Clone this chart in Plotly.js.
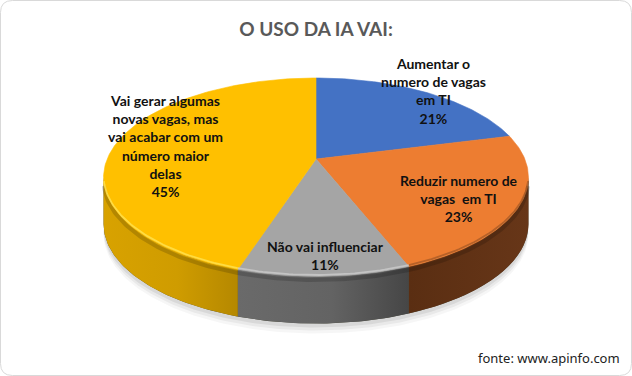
<!DOCTYPE html>
<html><head><meta charset="utf-8">
<script src="https://cdn.plot.ly/plotly-3.0.1.min.js"></script>
<style>html,body{margin:0;padding:0;background:#fff}#c{width:632px;height:376px}</style>
</head><body><div id="c"></div>
<script>
const categories = ["Aumentar o<br>numero de vagas<br>em TI","Reduzir numero de<br>vagas  em TI","Não vai influenciar","Vai gerar algumas<br>novas vagas, mas<br>vai acabar com um<br>número maior<br>delas"];
const values = [21,23,11,45];
const topColors = ["#4472c4","#ed7d31","#a5a5a5","#ffc000"];
const labelX = [433,459,325,165];
const labelY = [90.5,198.5,255.5,146];
const wallScales = [null,
  [[0,"#5a2e12"],[1,"#673618"]],
  [[0,"#6a6a6a"],[0.55,"#636363"],[1,"#464646"]],
  [[0,"#d8a200"],[0.55,"#cf9c00"],[1,"#b58800"]]];
const rimColors = [null,"#8a4a20","#c9c9c9","#ffe14d"];

// projection of the pie disc
const CX=316, CY=159, A=208.8, B=95.9, K=0.184, H=47;
const rad=d=>d*Math.PI/180;
const px=(t,dy=0)=>{const w=1+K*Math.cos(rad(t));return [CX+A*Math.sin(rad(t))/w, CY-B*Math.cos(rad(t))/w+dy];};
const arc=(a,b,dy=0)=>{const o=[];const s=Math.max(2,Math.ceil(Math.abs(b-a)));for(let i=0;i<=s;i++){o.push(px(a+(b-a)*i/s,dy));}return o;};
const FRONT_R=100.6, FRONT_L=259.4;
const xs=p=>p.map(q=>q[0]), ys=p=>p.map(q=>q[1]);
const traces=[];
const poly=(p,extra)=>traces.push(Object.assign({type:"scatter",mode:"lines",x:xs(p),y:ys(p),hoverinfo:"skip",line:{width:0}},extra));

// soft shadow under the wall
[[10,"rgba(0,0,0,0.035)"],[7,"rgba(0,0,0,0.05)"],[4,"rgba(0,0,0,0.07)"]].forEach(s=>{
  const p=arc(FRONT_R-14,FRONT_L+14,H+s[0]);
  poly(p.concat([p[0]]),{fill:"toself",fillcolor:s[1]});
});

let start=0;
const spans=values.map(v=>{const r=[start,start+v*3.6];start=r[1];return r;});
// base under the walls, closes the seams between sections
{
  const p=arc(FRONT_R,FRONT_L,0).concat(arc(FRONT_L,FRONT_R,H)); p.push(p[0]);
  poly(p,{fill:"toself",fillcolor:"#4a4a3a"});
}
// walls
spans.forEach((sp,i)=>{
  const a=Math.max(sp[0],FRONT_R), b=Math.min(sp[1],FRONT_L);
  if(a>=b) return;
  const p=arc(a,b,0).concat(arc(b,a,H));
  p.push(p[0]);
  poly(p,{fill:"toself",fillgradient:{type:"horizontal",colorscale:wallScales[i]}});
});
// wedges
spans.forEach((sp,i)=>{
  const p=[[CX,CY]].concat(arc(sp[0],sp[1])); p.push([CX,CY]);
  poly(p,{fill:"toself",fillcolor:topColors[i],line:{width:0.6,color:topColors[i]}});
});
// bevel on the rim
spans.forEach((sp,i)=>{
  const a=Math.max(sp[0],FRONT_R+3), b=Math.min(sp[1],FRONT_L-3);
  if(a>=b||!rimColors[i]) return;
  const d=arc(a,b,3.5);
  poly(d,{line:{width:4,color:"rgba(0,0,0,0.16)"}});
  const r=arc(a,b,-1.5);
  poly(r,{line:{width:1.8,color:rimColors[i]},opacity:i===1?0.55:0.85});
});

const labels=categories.map((c,i)=>({
  text:"<b>"+c+"<br>"+values[i]+"%</b>",xref:"x",yref:"y",x:labelX[i],y:labelY[i],
  xanchor:"center",yanchor:"middle",showarrow:false,align:"center",
  font:{family:"Lato, sans-serif",size:14,color:"#111111"}
}));
labels.push({text:"fonte: www.apinfo.com",xref:"x",yref:"y",x:621,y:358,xanchor:"right",yanchor:"middle",showarrow:false,xshift:1,
  font:{family:"'Noto Sans', sans-serif",size:13,color:"#222"}});

const R=12,W=631.5,Hh=375.5,L=0.5;
const layout={
  width:632,height:376,margin:{l:0,r:0,t:0,b:0},showlegend:false,
  paper_bgcolor:"#fff",plot_bgcolor:"rgba(0,0,0,0)",
  title:{text:"<b>O USO DA IA VAI:</b>",x:0.5,xanchor:"center",y:0.923,yanchor:"middle",font:{family:"Lato, sans-serif",size:19,color:"#595959"}},
  xaxis:{range:[0,632],visible:false,fixedrange:true},
  yaxis:{range:[376,0],visible:false,fixedrange:true},
  annotations:labels,
  shapes:[{type:"path",xref:"x",yref:"y",line:{color:"#d9d9d9",width:1},
    path:`M${L+R},${L} L${W-R},${L} Q${W},${L} ${W},${L+R} L${W},${Hh-R} Q${W},${Hh} ${W-R},${Hh} L${L+R},${Hh} Q${L},${Hh} ${L},${Hh-R} L${L},${L+R} Q${L},${L} ${L+R},${L} Z`}]
};
Plotly.newPlot("c",traces,layout,{displayModeBar:false,staticPlot:true});
</script></body></html>
